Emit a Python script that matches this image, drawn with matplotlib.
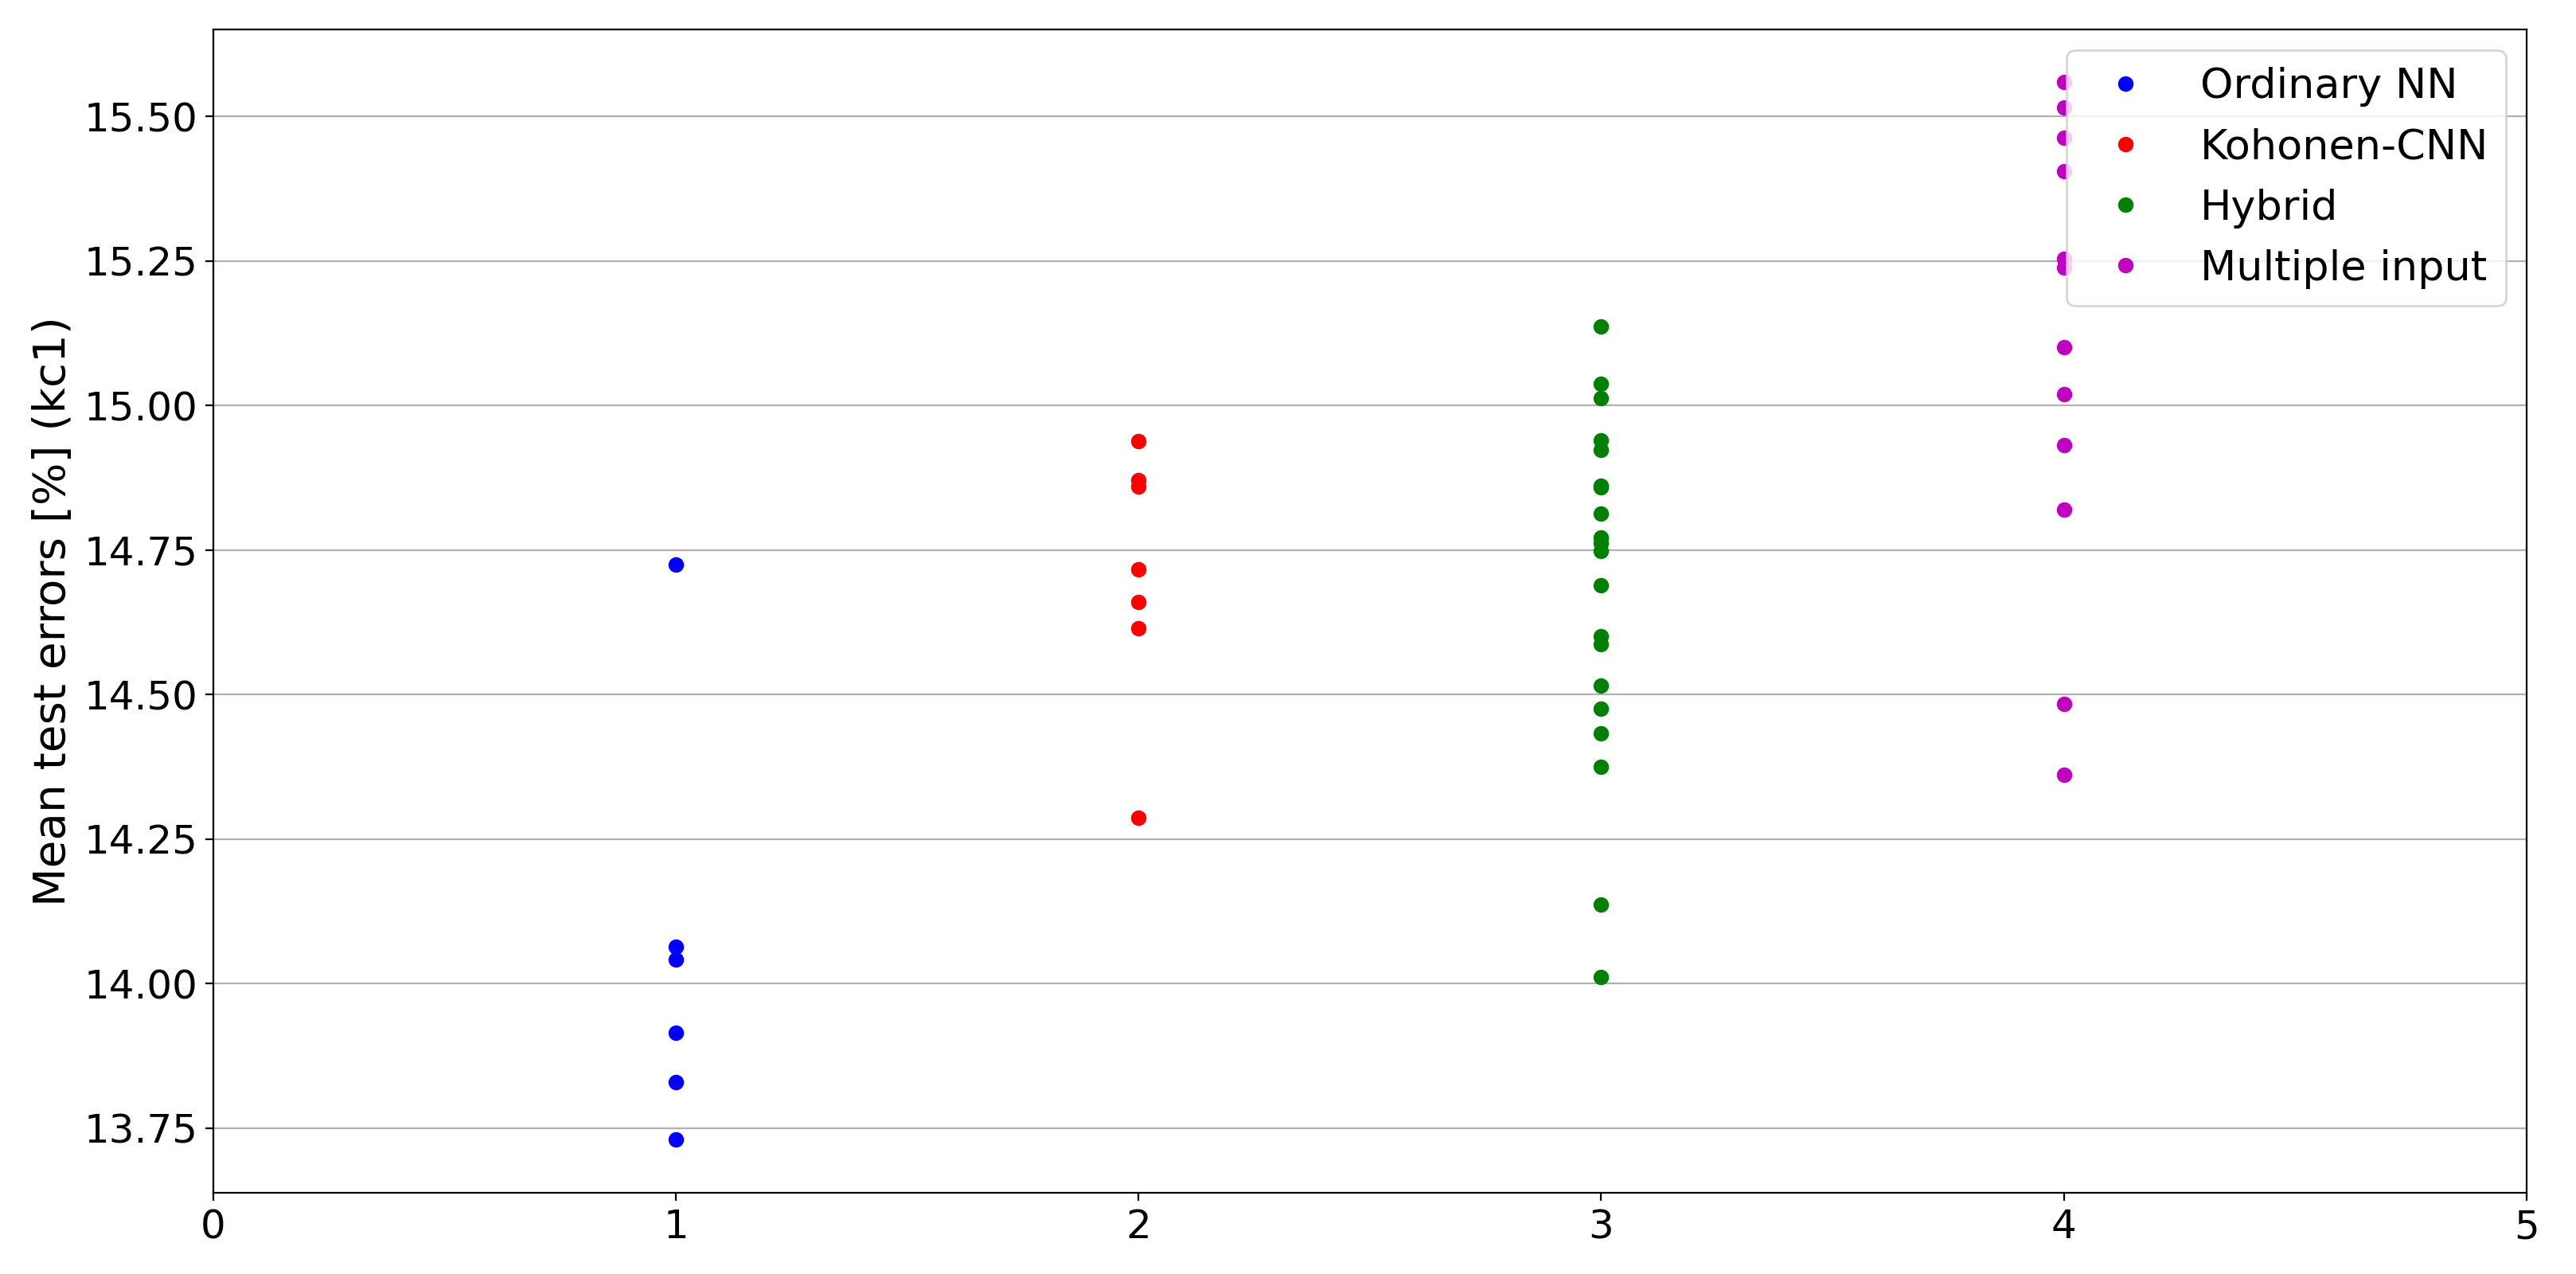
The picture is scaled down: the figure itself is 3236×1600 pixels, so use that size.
import numpy as np
import matplotlib
matplotlib.use('Agg')
import matplotlib.pyplot as plt

# mean test errors per model type (kc1)
ordinary_nn = [14.725, 14.063, 14.042, 13.915, 13.829, 13.730]
kohonen_cnn = [14.938, 14.871, 14.860, 14.717, 14.660, 14.615, 14.287]
hybrid = [15.136, 15.037, 15.013, 14.940, 14.923, 14.861, 14.858, 14.813,
          14.772, 14.762, 14.748, 14.689, 14.601, 14.587, 14.515, 14.475,
          14.433, 14.375, 14.137, 14.011]
multiple_input = [15.559, 15.515, 15.463, 15.405, 15.254, 15.238, 15.100,
                  15.020, 14.931, 14.819, 14.484, 14.361]

labels = ['Ordinary NN', 'Kohonen-CNN', 'Hybrid', 'Multiple input']
series = [ordinary_nn, kohonen_cnn, hybrid, multiple_input]
colors = ['b', 'r', 'g', 'm']

plt.rcParams['font.size'] = 18

fig = plt.figure(figsize=(16.18, 8), dpi=200)
ax = fig.add_axes([0.0828, 0.064, 0.898, 0.913])

for i, (vals, lab, c) in enumerate(zip(series, labels, colors)):
    ax.plot([i + 1] * len(vals), vals, 'o', color=c, markersize=6, label=lab)

ax.set_xlim(0, 5)
ax.set_xticks(range(6))
ax.set_ylabel('Mean test errors [%] (kc1)', fontsize=20.3)
ax.grid(axis='y')
ax.legend(loc='upper right', fontsize=18.9)

fig.savefig('out.png', dpi=200)
